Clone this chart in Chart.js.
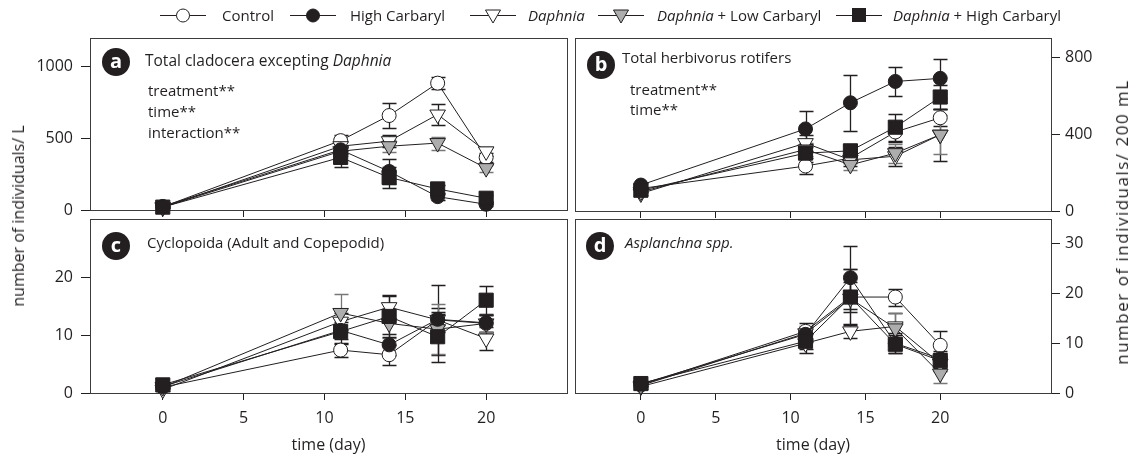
<!DOCTYPE html>
<html>
<head>
<meta charset="utf-8">
<script src="https://cdn.jsdelivr.net/npm/chart.js@4.4.1/dist/chart.umd.min.js"></script>
<style>
  body { margin: 0; background: #fff; font-family: 'Open Sans', sans-serif; color: #231f20; }
  #wrap { position: relative; width: 1138px; height: 460px; overflow: hidden; }
  #wrap canvas { position: absolute; left: 0; top: 0; }
  .txt { position: absolute; white-space: nowrap; font-size: 15px; line-height: 16px; }
  .tag { position: absolute; width: 28px; height: 28px; border-radius: 50%; background: #231f20;
         color: #fff; font-weight: 700; font-size: 20px; line-height: 26px; text-align: center; }
  .ytitle { position: absolute; white-space: nowrap; font-size: 16px; line-height: 18px;
            transform: translate(-50%, -50%) rotate(-90deg); }
  .leg { position: absolute; top: 6px; height: 18px; }
  .leg svg { position: absolute; left: 0; top: 0; }
  .leg span { position: absolute; top: 0; white-space: nowrap; font-size: 15px; line-height: 18px; }
</style>
</head>
<body>
<div id="wrap">
  <div class="leg" style="left:160px"><svg width="48" height="18" id="lg0"></svg><span style="left:62px">Control</span></div>
  <div class="leg" style="left:290px"><svg width="48" height="18" id="lg1"></svg><span style="left:60px">High Carbaryl</span></div>
  <div class="leg" style="left:470px"><svg width="48" height="18" id="lg2"></svg><span style="left:58px"><i>Daphnia</i></span></div>
  <div class="leg" style="left:598px"><svg width="48" height="18" id="lg3"></svg><span style="left:59px"><i>Daphnia</i> + Low Carbaryl</span></div>
  <div class="leg" style="left:836px"><svg width="48" height="18" id="lg4"></svg><span style="left:57px"><i>Daphnia</i> + High Carbaryl</span></div>

  <div class="tag" style="left:102px;top:48px">a</div>
  <div class="txt" style="left:145px;top:52px;font-size:15.5px">Total cladocera excepting <i>Daphnia</i></div>
  <div class="txt" style="left:148px;top:82px">treatment**</div>
  <div class="txt" style="left:148px;top:103px">time**</div>
  <div class="txt" style="left:148px;top:124px">interaction**</div>

  <div class="tag" style="left:587px;top:51px">b</div>
  <div class="txt" style="left:622px;top:49px">Total herbivorus rotifers</div>
  <div class="txt" style="left:630px;top:81px">treatment**</div>
  <div class="txt" style="left:630px;top:101px">time**</div>

  <div class="tag" style="left:102px;top:232px">c</div>
  <div class="txt" style="left:147px;top:234px">Cyclopoida (Adult and Copepodid)</div>

  <div class="tag" style="left:586px;top:232px">d</div>
  <div class="txt" style="left:625px;top:234px"><i>Asplanchna spp.</i></div>

  <div class="ytitle" style="left:18px;top:216px">number of individuals/ L</div>
  <div class="ytitle" style="left:1122px;top:222px;font-size:17px;letter-spacing:1.5px">number of individuals/ 200 mL</div>
</div>
<script>
// sampling days and axis ticks
const days = [0, 11, 14, 17, 20];
const xTicks = [0, 5, 10, 15, 20];
const seriesNames = ['Control', 'High Carbaryl', 'Daphnia', 'Daphnia + Low Carbaryl', 'Daphnia + High Carbaryl'];

// a: total cladocera excepting Daphnia (ind/L), rows follow seriesNames
const cladoceraMean = [
  [22, 484, 659, 885, 367],
  [25, 420, 269, 93, 40],
  [18, 445, 480, 666, 409],
  [20, 410, 445, 467, 292],
  [20, 367, 227, 147, 82]
];
const cladoceraErr = [
  [8, 42, 89, 40, 30],
  [6, 30, 90, 20, 15],
  [5, 35, 40, 75, 30],
  [5, 30, 40, 45, 25],
  [5, 68, 75, 30, 25]
];
const cladoceraTicks = [0, 500, 1000];

// b: total herbivorus rotifers (ind/200 mL)
const rotiferMean = [
  [117, 234, 275, 411, 485],
  [135, 427, 563, 674, 690],
  [91, 353, 266, 285, 397],
  [100, 320, 240, 301, 397],
  [108, 301, 313, 436, 593]
];
const rotiferErr = [
  [10, 43, 25, 50, 45],
  [10, 93, 145, 77, 100],
  [8, 40, 30, 50, 135],
  [8, 35, 25, 50, 100],
  [10, 45, 30, 70, 60]
];
const rotiferTicks = [0, 400, 800];

// c: Cyclopoida, adult and copepodid (ind/L)
const cyclopoidMean = [
  [1.0, 7.4, 6.6, 12.6, 12.0],
  [1.1, 10.8, 8.3, 12.7, 12.1],
  [0.6, 12.3, 14.8, 12.6, 9.4],
  [1.0, 13.8, 12.0, 11.0, 12.0],
  [1.4, 10.6, 13.2, 9.7, 16.0]
];
const cyclopoidErr = [
  [0.3, 1.2, 1.7, 6.1, 1.5],
  [0.3, 1.5, 1.8, 1.0, 1.5],
  [0.3, 1.5, 2.1, 2.0, 2.0],
  [0.3, 3.2, 2.5, 4.3, 1.5],
  [0.3, 2.2, 3.5, 4.3, 2.5]
];
const cyclopoidTicks = [0, 10, 20];

// d: Asplanchna spp. (ind/200 mL)
const asplanchnaMean = [
  [1.6, 12.4, 19.3, 19.3, 9.6],
  [1.8, 11.8, 23.2, 10.0, 6.9],
  [1.3, 10.0, 12.4, 13.4, 5.9],
  [1.5, 12.0, 19.0, 13.0, 3.9],
  [1.9, 10.4, 19.3, 9.8, 6.5]
];
const asplanchnaErr = [
  [0.4, 1.7, 3.0, 1.7, 2.8],
  [0.4, 1.5, 6.4, 2.0, 1.5],
  [0.4, 2.0, 1.4, 2.6, 1.5],
  [0.4, 1.5, 6.0, 3.0, 1.8],
  [0.4, 1.5, 5.7, 1.8, 1.5]
];
const asplanchnaTicks = [0, 10, 20, 30];

const INK = '#231f20';
const W = 1138, H = 460;

const markers = [
  { style: 'circle', fill: '#ffffff', r: 7, rot: 0, bar: INK, order: 4 },
  { style: 'circle', fill: INK, r: 7, rot: 0, bar: INK, order: 1 },
  { style: 'triangle', fill: '#ffffff', r: 9, rot: 180, bar: INK, order: 3 },
  { style: 'triangle', fill: '#adadad', r: 9, rot: 180, bar: '#777777', order: 2 },
  { style: 'rect', fill: INK, r: 10, rot: 0, bar: INK, order: 0 }
];

Chart.defaults.font.family = "'Open Sans', sans-serif";
Chart.defaults.font.size = 16;
Chart.defaults.color = INK;

const frame = {
  id: 'frame',
  beforeDatasetsDraw(chart) {
    const { ctx, chartArea: a } = chart;
    ctx.save();
    ctx.strokeStyle = '#3c3c3c';
    ctx.lineWidth = 1;
    ctx.strokeRect(Math.round(a.left) + 0.5, Math.round(a.top) + 0.5,
      Math.round(a.right - a.left), Math.round(a.bottom - a.top));
    ctx.restore();
  }
};

const errorBars = {
  id: 'errorBars',
  beforeDatasetsDraw(chart) {
    const { ctx, scales: { x, y } } = chart;
    ctx.save();
    ctx.lineWidth = 1.3;
    chart.data.datasets.forEach(ds => {
      ctx.strokeStyle = ds.barColor;
      ds.data.forEach((pt, j) => {
        const e = ds.errors[j];
        const px = Math.round(x.getPixelForValue(pt.x)) + 0.5;
        const t = Math.round(y.getPixelForValue(pt.y + e)) + 0.5;
        const b = Math.round(y.getPixelForValue(pt.y - e)) + 0.5;
        ctx.beginPath();
        ctx.moveTo(px, t); ctx.lineTo(px, b);
        ctx.moveTo(px - 7, t); ctx.lineTo(px + 7, t);
        ctx.moveTo(px - 7, b); ctx.lineTo(px + 7, b);
        ctx.stroke();
      });
    });
    ctx.restore();
  }
};

function makePanel(p) {
  const canvas = document.createElement('canvas');
  canvas.width = W;
  canvas.height = H;
  document.getElementById('wrap').prepend(canvas);

  const axisW = 80;
  const axisH = p.showX ? 62 : 16;
  const padding = p.side === 'left'
    ? { left: p.left - axisW, right: W - p.right, top: p.top, bottom: H - p.bottom - axisH }
    : { left: p.left, right: W - p.right - axisW, top: p.top, bottom: H - p.bottom - axisH };

  const datasets = p.means.map((m, i) => ({
    label: seriesNames[i],
    data: days.map((d, j) => ({ x: d, y: m[j] })),
    errors: p.errs[i],
    barColor: markers[i].bar,
    order: markers[i].order,
    borderColor: INK,
    borderWidth: 1,
    pointStyle: markers[i].style,
    pointRadius: markers[i].r,
    pointRotation: markers[i].rot,
    pointBackgroundColor: markers[i].fill,
    pointBorderColor: INK,
    pointBorderWidth: 1,
    tension: 0,
    clip: false
  }));

  new Chart(canvas, {
    type: 'line',
    data: { datasets },
    options: {
      responsive: false,
      animation: false,
      events: [],
      layout: { padding },
      plugins: { legend: { display: false }, tooltip: { enabled: false } },
      scales: {
        x: {
          type: 'linear',
          min: p.xMin,
          max: p.xMax,
          afterBuildTicks: s => { s.ticks = xTicks.map(v => ({ value: v })); },
          afterFit: s => { s.height = axisH; },
          grid: { drawOnChartArea: false, drawTicks: true, tickLength: 7, tickColor: INK, color: INK },
          border: { display: false },
          ticks: { display: p.showX, padding: 9, font: { size: 16 }, callback: v => String(v) },
          title: { display: p.showX, text: 'time (day)', padding: 0, font: { size: 16 } }
        },
        y: {
          type: 'linear',
          position: p.side,
          min: 0,
          max: p.yMax,
          afterBuildTicks: s => { s.ticks = p.yTicks.map(v => ({ value: v })); },
          afterFit: s => { s.width = axisW; },
          grid: { drawOnChartArea: false, drawTicks: true, tickLength: 9, tickColor: INK, color: INK },
          border: { display: false },
          ticks: { padding: p.side === 'left' ? 8 : 5, font: { size: 16 }, callback: v => String(v) }
        }
      }
    },
    plugins: [frame, errorBars]
  });
}

makePanel({ side: 'left', left: 90, right: 567, top: 38, bottom: 210, xMin: -4.5, xMax: 25, yMax: 1200,
  yTicks: cladoceraTicks, means: cladoceraMean, errs: cladoceraErr, showX: false });
makePanel({ side: 'right', left: 575, right: 1051, top: 38, bottom: 211, xMin: -4.4, xMax: 27.4, yMax: 900,
  yTicks: rotiferTicks, means: rotiferMean, errs: rotiferErr, showX: false });
makePanel({ side: 'left', left: 90, right: 567, top: 219, bottom: 393, xMin: -4.5, xMax: 25, yMax: 30,
  yTicks: cyclopoidTicks, means: cyclopoidMean, errs: cyclopoidErr, showX: true });
makePanel({ side: 'right', left: 575, right: 1051, top: 219, bottom: 393, xMin: -4.4, xMax: 27.4, yMax: 35,
  yTicks: asplanchnaTicks, means: asplanchnaMean, errs: asplanchnaErr, showX: true });

// legend symbols: short line with the series marker in the middle
const svgNS = 'http://www.w3.org/2000/svg';
markers.forEach((m, i) => {
  const svg = document.getElementById('lg' + i);
  const line = document.createElementNS(svgNS, 'line');
  line.setAttribute('x1', 0); line.setAttribute('x2', 46);
  line.setAttribute('y1', 9.5); line.setAttribute('y2', 9.5);
  line.setAttribute('stroke', INK); line.setAttribute('stroke-width', 1);
  svg.appendChild(line);
  let shape;
  if (m.style === 'circle') {
    shape = document.createElementNS(svgNS, 'circle');
    shape.setAttribute('cx', 23); shape.setAttribute('cy', 9.5); shape.setAttribute('r', 6.5);
  } else if (m.style === 'rect') {
    shape = document.createElementNS(svgNS, 'rect');
    shape.setAttribute('x', 16.5); shape.setAttribute('y', 2.5);
    shape.setAttribute('width', 13); shape.setAttribute('height', 13);
  } else {
    shape = document.createElementNS(svgNS, 'polygon');
    shape.setAttribute('points', '15.5,4 30.5,4 23,17');
  }
  shape.setAttribute('fill', m.fill);
  shape.setAttribute('stroke', INK);
  shape.setAttribute('stroke-width', 1);
  svg.appendChild(shape);
});
</script>
</body>
</html>
